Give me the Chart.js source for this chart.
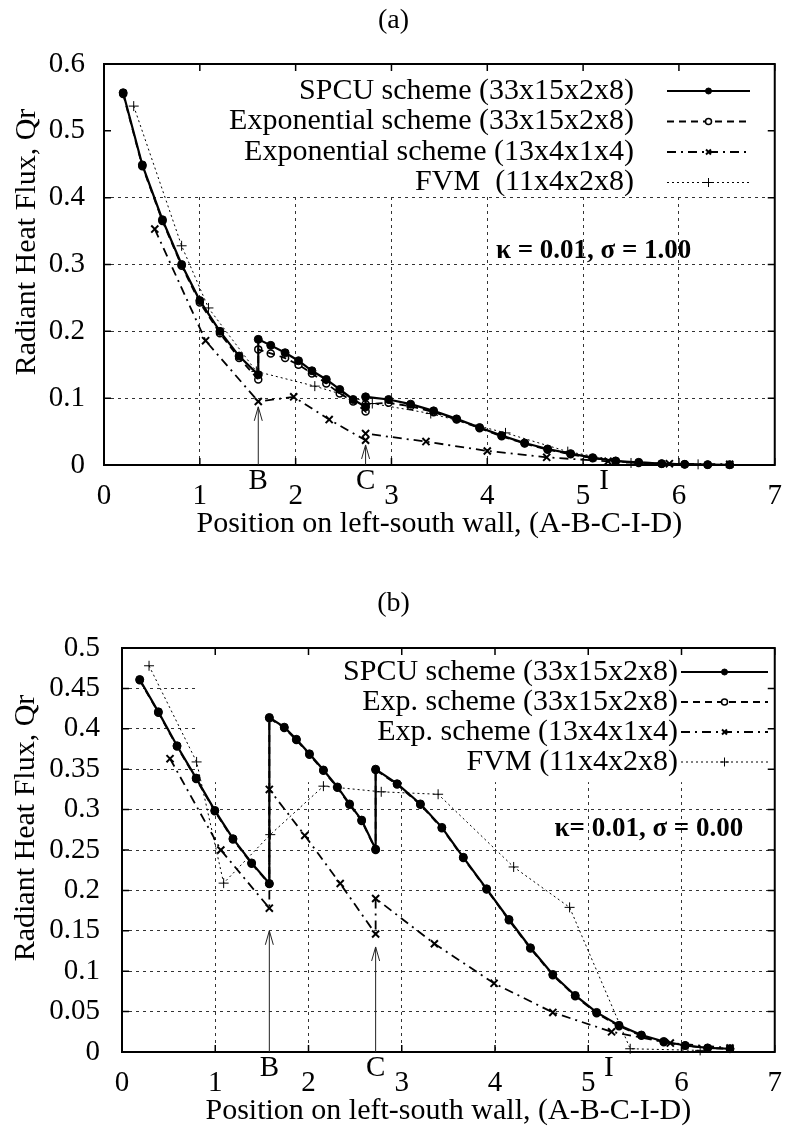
<!DOCTYPE html>
<html><head><meta charset="utf-8">
<script src="https://cdn.jsdelivr.net/npm/chart.js@4.4.1/dist/chart.umd.min.js"></script>
<style>
html,body{margin:0;padding:0;background:#fff;}
#wrapA{position:absolute;left:0;top:0;width:796px;height:560px;}
#wrapB{position:absolute;left:0;top:560px;width:796px;height:577px;}
</style></head><body>
<div id="wrapA"><canvas id="ca"></canvas></div>
<div id="wrapB"><canvas id="cb"></canvas></div>
<script>
// ---------- tick values ----------
const xTicks = [0,1,2,3,4,5,6,7];
const yTicksA = [0,0.1,0.2,0.3,0.4,0.5,0.6];
const yTicksB = [0,0.05,0.1,0.15,0.2,0.25,0.3,0.35,0.4,0.45,0.5];

// ---------- panel (a) ----------
const labelsA = ["SPCU scheme (33x15x2x8)","Exponential scheme (33x15x2x8)","Exponential scheme (13x4x1x4)","FVM  (11x4x2x8)"];
const spcuA_x = [0.20,0.40,0.61,0.81,1.00,1.21,1.41,1.61, 1.61,1.74,1.89,2.03,2.17,2.32,2.46,2.60,2.73, 2.73,2.97,3.20,3.44,3.68,3.92,4.15,4.39,4.63,4.87,5.10,5.34,5.58,5.82,6.06,6.30,6.53];
const spcuA_y = [0.557,0.449,0.367,0.300,0.246,0.200,0.163,0.135, 0.188,0.179,0.168,0.156,0.141,0.128,0.113,0.098,0.087, 0.102,0.098,0.091,0.081,0.069,0.056,0.044,0.033,0.024,0.017,0.011,0.006,0.004,0.002,0.001,0.0005,0.0003];
const expA_x = [0.20,0.40,0.61,0.81,1.00,1.21,1.41,1.61, 1.61,1.74,1.89,2.03,2.17,2.32,2.46,2.60,2.73, 2.73,2.97,3.20,3.44,3.68,3.92,4.15,4.39,4.63,4.87,5.10,5.34,5.58,5.82,6.06,6.30,6.53];
const expA_y = [0.555,0.447,0.365,0.298,0.243,0.197,0.160,0.128, 0.173,0.167,0.160,0.150,0.137,0.122,0.107,0.095,0.080, 0.091,0.093,0.088,0.079,0.068,0.055,0.043,0.032,0.023,0.016,0.010,0.006,0.003,0.002,0.001,0.0004,0.0002];
const exp13A_x = [0.53,1.06,1.61,1.98,2.35,2.73,2.73,3.36,4.00,4.62,5.26,5.90,6.53];
const exp13A_y = [0.353,0.186,0.095,0.102,0.068,0.037,0.047,0.035,0.021,0.0115,0.0055,0.002,0.001];
const fvmA_x = [0.31,0.81,1.09,1.59,2.20,2.80,3.41,4.19,4.84,5.50,6.20];
const fvmA_y = [0.537,0.328,0.235,0.140,0.118,0.092,0.077,0.048,0.020,0.003,0.001];

// ---------- panel (b) ----------
const labelsB = ["SPCU scheme (33x15x2x8)","Exp. scheme (33x15x2x8)","Exp. scheme (13x4x1x4)","FVM (11x4x2x8)"];
const spcuB_x = [0.19,0.39,0.59,0.795,0.995,1.19,1.39,1.58, 1.58,1.74,1.87,2.01,2.16,2.31,2.44,2.57,2.72, 2.72,2.95,3.20,3.43,3.66,3.91,4.15,4.38,4.62,4.86,5.09,5.33,5.57,5.81,6.04,6.28,6.52];
const spcuB_y = [0.461,0.421,0.379,0.339,0.299,0.264,0.234,0.2085, 0.414,0.402,0.387,0.369,0.349,0.328,0.307,0.287,0.251, 0.350,0.332,0.307,0.278,0.241,0.202,0.164,0.129,0.096,0.070,0.049,0.033,0.021,0.013,0.008,0.005,0.004];
const expB_x = [0.19,0.39,0.59,0.795,0.995,1.19,1.39,1.58, 1.58,1.74,1.87,2.01,2.16,2.31,2.44,2.57,2.72, 2.72,2.95,3.20,3.43,3.66,3.91,4.15,4.38,4.62,4.86,5.09,5.33,5.57,5.81,6.04,6.28,6.52];
const expB_y = [0.460,0.420,0.378,0.338,0.298,0.263,0.233,0.208, 0.413,0.401,0.386,0.368,0.348,0.327,0.306,0.286,0.250, 0.349,0.331,0.306,0.277,0.240,0.201,0.163,0.128,0.095,0.069,0.048,0.032,0.020,0.012,0.008,0.005,0.004];
const exp13B_x = [0.515,1.06,1.58,1.58,1.96,2.34,2.72,2.72,3.35,3.99,4.62,5.25,5.88,6.52];
const exp13B_y = [0.363,0.250,0.178,0.325,0.268,0.2085,0.146,0.190,0.134,0.085,0.049,0.025,0.011,0.005];
const fvmB_x = [0.29,0.80,1.09,1.59,2.16,2.78,3.39,4.20,4.80,5.45,6.20];
const fvmB_y = [0.478,0.359,0.209,0.269,0.329,0.322,0.319,0.229,0.179,0.004,0.002];

// ---------- helpers ----------
const SERIF = "'Liberation Serif','Times New Roman',serif";
const pts = (xs, ys) => xs.map((v, i) => ({x: v, y: ys[i]}));
const fmt = v => String(Math.round(v * 100) / 100);

function datasets(labels, s, e, e13, f) {
  return [
    {label: labels[0], data: s, borderColor:'#000', borderWidth:2.2, borderDash:[],
     pointStyle:'circle', pointRadius:4, pointBackgroundColor:'#000', pointBorderColor:'#000', pointBorderWidth:1, legendRadius:3, order:4},
    {label: labels[1], data: e, borderColor:'#000', borderWidth:1.8, borderDash:[7,5],
     pointStyle:'circle', pointRadius:3.5, pointBackgroundColor:'rgba(0,0,0,0)', pointBorderColor:'#000', pointBorderWidth:1.5, legendRadius:3, order:3},
    {label: labels[2], data: e13, borderColor:'#000', borderWidth:1.8, borderDash:[9,5,2,5],
     pointStyle:'crossRot', pointRadius:5, pointBackgroundColor:'#000', pointBorderColor:'#000', pointBorderWidth:2, legendRadius:3.5, order:2},
    {label: labels[3], data: f, borderColor:'#000', borderWidth:1, borderDash:[2,3],
     pointStyle:'cross', pointRadius:5, pointBackgroundColor:'#000', pointBorderColor:'#000', pointBorderWidth:1, legendRadius:4.5, order:1}
  ].map(d => Object.assign(d, {tension:0, clip:false, fill:false}));
}

function makeDecor(cfg) {
  return {
    id: 'panelDecor',
    beforeDatasetsDraw(chart) {
      const {ctx, scales: {x, y}} = chart;
      const b = cfg.keyBox;
      const L = x.getPixelForValue(b.x0), R = x.getPixelForValue(b.x1);
      const T = y.getPixelForValue(b.y1), B = y.getPixelForValue(b.y0);
      ctx.save(); ctx.fillStyle = '#fff'; ctx.fillRect(L, T, R - L, B - T); ctx.restore();
    },
    afterDatasetsDraw(chart) {
      const {ctx, chartArea: ca, scales: {x, y}} = chart;
      ctx.save();
      ctx.setLineDash([]);
      ctx.strokeStyle = '#000'; ctx.lineWidth = 1.5;
      ctx.beginPath();
      x.ticks.forEach(t => { const px = x.getPixelForValue(t.value);
        ctx.moveTo(px, ca.bottom); ctx.lineTo(px, ca.bottom - cfg.tick);
        ctx.moveTo(px, ca.top); ctx.lineTo(px, ca.top + cfg.tick); });
      y.ticks.forEach(t => { const py = y.getPixelForValue(t.value);
        ctx.moveTo(ca.left, py); ctx.lineTo(ca.left + cfg.tick, py);
        ctx.moveTo(ca.right, py); ctx.lineTo(ca.right - cfg.tick, py); });
      ctx.stroke();
      ctx.lineWidth = 2;
      ctx.strokeRect(ca.left, ca.top, ca.right - ca.left, ca.bottom - ca.top);
      // arrows
      ctx.lineWidth = 1; ctx.strokeStyle = '#222';
      cfg.arrows.forEach(a => {
        const px = x.getPixelForValue(a.x), y0 = y.getPixelForValue(0), y1 = y.getPixelForValue(a.tip);
        ctx.beginPath(); ctx.moveTo(px, y0); ctx.lineTo(px, y1);
        ctx.moveTo(px - 4, y1 + 14); ctx.lineTo(px, y1); ctx.lineTo(px + 4, y1 + 14); ctx.stroke();
      });
      // B C I labels
      ctx.fillStyle = '#000'; ctx.textAlign = 'center'; ctx.textBaseline = 'middle';
      ctx.font = '29px ' + SERIF;
      cfg.marks.forEach(m => ctx.fillText(m.text, x.getPixelForValue(m.x), ca.bottom + cfg.markDy));
      // annotation
      ctx.font = 'bold 27px ' + SERIF;
      ctx.fillText(cfg.note.text, x.getPixelForValue(cfg.note.x), y.getPixelForValue(cfg.note.y));
      // y title
      ctx.save(); ctx.translate(cfg.yTitle.x, cfg.yTitle.y); ctx.rotate(-Math.PI / 2);
      ctx.font = '30px ' + SERIF; ctx.fillText('Radiant Heat Flux, Qr', 0, 0); ctx.restore();
      // legend
      const lg = cfg.legend;
      chart.data.datasets.forEach((ds, i) => {
        const cy = lg.top + i * lg.row;
        ctx.font = '30px ' + SERIF; ctx.textAlign = 'right'; ctx.fillStyle = '#000';
        ctx.fillText(ds.label, lg.textRight, cy);
        ctx.save();
        ctx.strokeStyle = ds.borderColor; ctx.lineWidth = ds.borderWidth; ctx.setLineDash(ds.borderDash || []);
        ctx.beginPath(); ctx.moveTo(lg.x0, cy); ctx.lineTo(lg.x1, cy); ctx.stroke();
        ctx.setLineDash([]);
        ctx.fillStyle = ds.pointStyle === 'circle' && ds.pointBackgroundColor !== '#000' ? '#fff' : ds.pointBackgroundColor;
        ctx.strokeStyle = ds.pointBorderColor; ctx.lineWidth = ds.pointBorderWidth;
        Chart.helpers.drawPoint(ctx, {pointStyle: ds.pointStyle, radius: ds.legendRadius, borderWidth: ds.pointBorderWidth, rotation: 0}, (lg.x0 + lg.x1) / 2, cy);
        ctx.restore();
      });
      ctx.restore();
    }
  };
}

function makeChart(id, p) {
  return new Chart(document.getElementById(id), {
    type: 'line',
    data: {datasets: p.datasets},
    options: {
      responsive: true, maintainAspectRatio: false, animation: false, devicePixelRatio: 1,
      layout: {padding: {left: 0, right: 9, top: 0, bottom: 0}},
      plugins: {
        legend: {display: false}, tooltip: {enabled: false},
        title: {display: true, text: p.title, color: '#000', font: {family: SERIF, size: 28, weight: 'normal', lineHeight: 1.2},
                padding: p.titlePad}
      },
      scales: {
        x: {type: 'linear', min: 0, max: 7,
            afterBuildTicks: s => { s.ticks = xTicks.map(v => ({value: v})); },
            afterFit: s => { s.height = p.xAxisH; },
            grid: {color: '#333', lineWidth: 1, drawTicks: false},
            border: {display: false, dash: [3, 4]},
            ticks: {color: '#000', padding: 14, font: {family: SERIF, size: 29}, callback: v => fmt(v), maxRotation: 0},
            title: {display: true, text: 'Position on left-south wall, (A-B-C-I-D)', color: '#000',
                    font: {family: SERIF, size: 30, lineHeight: 1.2}, padding: {top: 0, bottom: p.xTitlePad}}},
        y: {type: 'linear', min: 0, max: p.yMax,
            afterBuildTicks: s => { s.ticks = p.yTicks.map(v => ({value: v})); },
            afterFit: s => { s.width = p.yAxisW; },
            grid: {color: '#333', lineWidth: 1, drawTicks: false},
            border: {display: false, dash: [3, 4]},
            ticks: {color: '#000', padding: p.yTickPad, font: {family: SERIF, size: 29}, callback: v => fmt(v)}}
      }
    },
    plugins: [makeDecor(p.decor)]
  });
}

makeChart('ca', {
  title: '(a)', titlePad: {top: 4, bottom: 26.4}, xAxisH: 95, xTitlePad: 18, yAxisW: 104, yTickPad: 19,
  yMax: 0.6, yTicks: yTicksA,
  datasets: datasets(labelsA, pts(spcuA_x, spcuA_y), pts(expA_x, expA_y), pts(exp13A_x, exp13A_y), pts(fvmA_x, fvmA_y)),
  decor: {
    tick: 7, keyBox: {x0: 0, x1: 7, y0: 0.402, y1: 0.6},
    arrows: [{x: 1.61, tip: 0.087}, {x: 2.73, tip: 0.03}],
    marks: [{text: 'B', x: 1.61}, {text: 'C', x: 2.73}, {text: 'I', x: 5.22}], markDy: 16,
    note: {text: 'κ = 0.01, σ = 1.00', x: 5.11, y: 0.32},
    yTitle: {x: 27, y: 242},
    legend: {top: 91, row: 30.5, textRight: 634, x0: 667, x1: 750}
  }
});

makeChart('cb', {
  title: '(b)', titlePad: {top: 27.2, bottom: 27.2}, xAxisH: 85, xTitlePad: 8, yAxisW: 122, yTickPad: 22,
  yMax: 0.5, yTicks: yTicksB,
  datasets: datasets(labelsB, pts(spcuB_x, spcuB_y), pts(expB_x, expB_y), pts(exp13B_x, exp13B_y), pts(fvmB_x, fvmB_y)),
  decor: {
    tick: 7, keyBox: {x0: 0.79, x1: 7, y0: 0.334, y1: 0.5},
    arrows: [{x: 1.58, tip: 0.15}, {x: 2.72, tip: 0.13}],
    marks: [{text: 'B', x: 1.58}, {text: 'C', x: 2.72}, {text: 'I', x: 5.22}], markDy: 16,
    note: {text: 'κ= 0.01, σ = 0.00', x: 5.65, y: 0.276},
    yTitle: {x: 26, y: 268},
    legend: {top: 112, row: 30, textRight: 678, x0: 681, x1: 768}
  }
});
</script>
</body></html>
